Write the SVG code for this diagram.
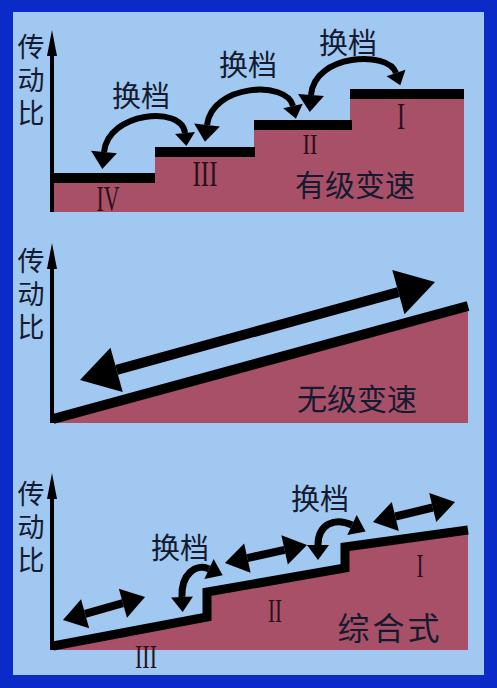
<svg xmlns="http://www.w3.org/2000/svg" width="497" height="688" viewBox="0 0 497 688">
<style>
.cjk{font-family:"Noto Sans CJK SC","Noto Sans",sans-serif;fill:#141b30}
.vert{font-family:"Noto Sans CJK SC","Noto Sans",sans-serif;fill:#141b30;font-size:27px;writing-mode:tb;letter-spacing:6px}
.rom{font-family:"Liberation Serif","DejaVu Serif",serif;fill:#2a1018;text-anchor:middle}
.pink{fill:#a85068}
.axis{stroke:#000;stroke-width:4}
.arc{fill:none;stroke:#000;stroke-width:6}
.arc3{fill:none;stroke:#000;stroke-width:7}
</style>
<defs>
<marker id="hBig" markerUnits="userSpaceOnUse" orient="auto-start-reverse" markerWidth="40" markerHeight="40" refX="0" refY="0" viewBox="-2 -20 40 40" overflow="visible"><path d="M0,-13 L17,0 L0,13 Z" fill="#000"/></marker>
<marker id="hSmall" markerUnits="userSpaceOnUse" orient="auto-start-reverse" markerWidth="40" markerHeight="40" refX="0" refY="0" viewBox="-2 -20 40 40" overflow="visible"><path d="M0,-10 L13,0 L0,10 Z" fill="#000"/></marker>
<marker id="hLarge" markerUnits="userSpaceOnUse" orient="auto-start-reverse" markerWidth="80" markerHeight="80" refX="0" refY="0" viewBox="-2 -40 80 80" overflow="visible"><path d="M0,-23 L38,0 L0,23 Z" fill="#000"/></marker>
<marker id="hMid" markerUnits="userSpaceOnUse" orient="auto-start-reverse" markerWidth="40" markerHeight="40" refX="0" refY="0" viewBox="-2 -20 40 40" overflow="visible"><path d="M0,-15 L23,0 L0,15 Z" fill="#000"/></marker>
<marker id="hCurve" markerUnits="userSpaceOnUse" orient="auto-start-reverse" markerWidth="40" markerHeight="40" refX="0" refY="0" viewBox="-2 -20 40 40" overflow="visible"><path d="M0,-11 L15,0 L0,11 Z" fill="#000"/></marker>
</defs>
<rect x="0" y="0" width="497" height="688" fill="#0b2bc8"/>
<rect x="13" y="12" width="471" height="663" fill="#a0c8f0"/>

<g id="panel1">
  <g id="p1-steps">
    <rect class="pink" x="53" y="178" width="102" height="34"/>
    <rect class="pink" x="155" y="152" width="100" height="60"/>
    <rect class="pink" x="254" y="125" width="98" height="87"/>
    <rect class="pink" x="350" y="94" width="114" height="118"/>
    <rect x="53" y="173" width="102" height="10" fill="#000"/>
    <rect x="155" y="147" width="100" height="10" fill="#000"/>
    <rect x="254" y="120" width="98" height="10" fill="#000"/>
    <rect x="350" y="89" width="114" height="10" fill="#000"/>
  </g>
  <g id="p1-axis">
    <line class="axis" x1="52" y1="50" x2="52" y2="212"/>
    <polygon points="52,30 57,56 47,56" fill="#000"/>
    <text class="vert" x="31" y="33">传动比</text>
  </g>
  <g id="p1-labels">
    <text class="rom" font-size="36" x="108" y="211" textLength="23" lengthAdjust="spacingAndGlyphs">IV</text>
    <text class="rom" font-size="36" x="205" y="186" textLength="25" lengthAdjust="spacingAndGlyphs">III</text>
    <text class="rom" font-size="29" x="310" y="154" textLength="15" lengthAdjust="spacingAndGlyphs">II</text>
    <text class="rom" font-size="38" x="401" y="129" textLength="8" lengthAdjust="spacingAndGlyphs">I</text>
    <text class="cjk" font-size="30" x="355" y="196" text-anchor="middle">有级变速</text>
    <text class="cjk" font-size="29" x="141" y="107" text-anchor="middle">换档</text>
    <text class="cjk" font-size="29" x="248" y="76" text-anchor="middle">换档</text>
    <text class="cjk" font-size="29" x="348" y="54" text-anchor="middle">换档</text>
  </g>
</g>

<g id="panel2">
  <g id="p2-ramp">
    <polygon class="pink" points="53,421 468,306 468,423 53,423"/>
    <line x1="53" y1="419" x2="468" y2="306" stroke="#000" stroke-width="10"/>
  </g>
  <g id="p2-axis">
    <line class="axis" x1="52" y1="262" x2="52" y2="423"/>
    <polygon points="52,243 57,269 47,269" fill="#000"/>
    <text class="vert" x="31" y="247">传动比</text>
  </g>
  <g id="p2-labels">
    <text class="cjk" font-size="30" x="357" y="410" text-anchor="middle">无级变速</text>
  </g>
</g>

<g id="panel3">
  <g id="p3-ramp">
    <polygon class="pink" points="53,646 207,617 207,592 345,568 345,547 468,530 468,650 53,650"/>
    <polyline points="53,646 207,617 207,592 345,568 345,547 468,530" fill="none" stroke="#000" stroke-width="9"/>
  </g>
  <g id="p3-axis">
    <line class="axis" x1="52" y1="492" x2="52" y2="650"/>
    <polygon points="52,473 57,499 47,499" fill="#000"/>
    <text class="vert" x="31" y="480">传动比</text>
  </g>
  <g id="p3-labels">
    <text class="rom" font-size="34" x="146" y="668" textLength="22" lengthAdjust="spacingAndGlyphs">III</text>
    <text class="rom" font-size="33" x="275" y="622" textLength="14" lengthAdjust="spacingAndGlyphs">II</text>
    <text class="rom" font-size="33" x="420" y="577" textLength="7" lengthAdjust="spacingAndGlyphs">I</text>
    <text class="cjk" font-size="32" x="390" y="640" text-anchor="middle" letter-spacing="3">综合式</text>
    <text class="cjk" font-size="29" x="180" y="559" text-anchor="middle">换档</text>
    <text class="cjk" font-size="29" x="320" y="510" text-anchor="middle">换档</text>
  </g>
</g>

<g id="connectors">
  <path class="arc" d="M104,152 C108,112 182,105 185,133" marker-start="url(#hBig)" marker-end="url(#hSmall)"/>
  <path class="arc" d="M207,125 C212,84 287,80 293,106" marker-start="url(#hBig)" marker-end="url(#hSmall)"/>
  <path class="arc" d="M311,95 C314,54 388,50 396,73" marker-start="url(#hBig)" marker-end="url(#hSmall)"/>
  <line x1="116.6" y1="369.9" x2="398.4" y2="292.1" stroke="#000" stroke-width="10" marker-start="url(#hLarge)" marker-end="url(#hLarge)"/>
  <line x1="85.1" y1="613.8" x2="122.9" y2="603.2" stroke="#000" stroke-width="8" marker-start="url(#hMid)" marker-end="url(#hMid)"/>
  <line x1="247.4" y1="558.1" x2="284.6" y2="549.9" stroke="#000" stroke-width="8" marker-start="url(#hMid)" marker-end="url(#hMid)"/>
  <line x1="395.3" y1="516.5" x2="432.7" y2="507.5" stroke="#000" stroke-width="8" marker-start="url(#hMid)" marker-end="url(#hMid)"/>
  <path class="arc3" d="M182,597 C181,574 196,563 209,569" marker-start="url(#hCurve)" marker-end="url(#hCurve)"/>
  <path class="arc3" d="M318,545 C318,524 335,517 352,525" marker-start="url(#hCurve)" marker-end="url(#hCurve)"/>
</g>
</svg>
